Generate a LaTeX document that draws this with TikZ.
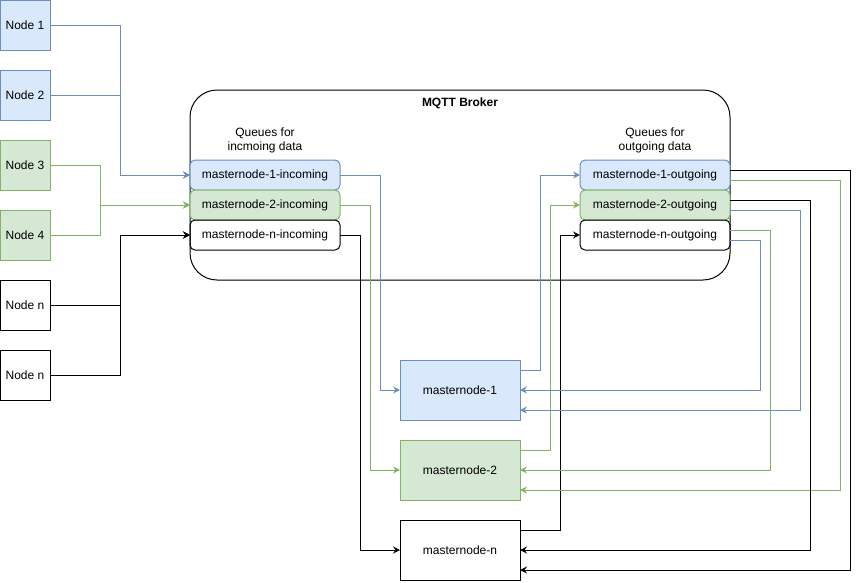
\documentclass[tikz,border=0pt]{standalone}
\usepackage{fontspec}
\setmainfont{Liberation Sans}
\usetikzlibrary{arrows.meta}
\definecolor{blueFill}{HTML}{DAE8FC}
\definecolor{blueLine}{HTML}{6C8EBF}
\definecolor{greenFill}{HTML}{D5E8D4}
\definecolor{greenLine}{HTML}{82B366}
\tikzset{
	box/.style={draw, inner sep=0pt, outer sep=0pt, font=\fontsize{12}{14}\selectfont},
	src/.style={box, minimum width=50pt, minimum height=50pt},
	queue/.style={box, rounded corners=5pt, minimum width=150pt, minimum height=30pt},
	master/.style={box, minimum width=120pt, minimum height=60pt},
	bluebox/.style={draw=blueLine, fill=blueFill},
	greenbox/.style={draw=greenLine, fill=greenFill},
	link/.style={-{Stealth[length=7pt, width=7pt, inset=2.5pt]}},
	lab/.style={align=center, font=\fontsize{12}{14}\selectfont},
}
\begin{document}
\begin{tikzpicture}[x=1pt, y=-1pt, line width=1pt]
	\useasboundingbox (0, 0) rectangle (859, 582);
	\def \qin{265}
	\def \qout{655}
	% broker
	\draw[fill=white, rounded corners=27pt] (190, 90) rectangle (730, 280);
	\node[lab, font=\fontsize{12}{14}\selectfont\bfseries] (title) at (460, 103) {MQTT Broker};
	\node[lab] (inlab) at (\qin, 140) {Queues for\\incmoing data};
	\node[lab] (outlab) at (\qout, 140) {Queues for\\outgoing data};
	% sources
	\node[src, bluebox] (node1) at (25, 25) {Node 1};
	\node[src, bluebox] (node2) at (25, 95) {Node 2};
	\node[src, greenbox] (node3) at (25, 165) {Node 3};
	\node[src, greenbox] (node4) at (25, 235) {Node 4};
	\node[src] (nodena) at (25, 305) {Node n};
	\node[src] (nodenb) at (25, 375) {Node n};
	% queues
	\node[queue, bluebox] (inq1) at (\qin, 175) {masternode-1-incoming};
	\node[queue, greenbox] (inq2) at (\qin, 205) {masternode-2-incoming};
	\node[queue] (inqn) at (\qin, 235) {masternode-n-incoming};
	\node[queue, bluebox] (outq1) at (\qout, 175) {masternode-1-outgoing};
	\node[queue, greenbox] (outq2) at (\qout, 205) {masternode-2-outgoing};
	\node[queue] (outqn) at (\qout, 235) {masternode-n-outgoing};
	% masternodes
	\node[master, bluebox] (mn1) at (460, 390) {masternode-1};
	\node[master, greenbox] (mn2) at (460, 470) {masternode-2};
	\node[master] (mnn) at (460, 550) {masternode-n};
	% sources -> incoming
	\draw[link, blueLine] (node1.east) -- ++(70, 0) |- (inq1.west);
	\draw[link, blueLine] (node2.east) -- ++(70, 0) |- (inq1.west);
	\draw[link, greenLine] (node3.east) -- ++(50, 0) |- (inq2.west);
	\draw[link, greenLine] (node4.east) -- ++(50, 0) |- (inq2.west);
	\draw[link] (nodena.east) -- ++(70, 0) |- (inqn.west);
	\draw[link] (nodenb.east) -- ++(70, 0) |- (inqn.west);
	% incoming -> masternodes
	\draw[link, blueLine] (inq1.east) -- ++(40, 0) |- (mn1.west);
	\draw[link, greenLine] (inq2.east) -- ++(30, 0) |- (mn2.west);
	\draw[link] (inqn.east) -- ++(20, 0) |- (mnn.west);
	% masternodes -> outgoing
	\draw[link, blueLine] ([yshift=20pt]mn1.east) -- ++(20, 0) |- (outq1.west);
	\draw[link, greenLine] ([yshift=20pt]mn2.east) -- ++(30, 0) |- (outq2.west);
	\draw[link] ([yshift=20pt]mnn.east) -- ++(40, 0) |- (outqn.west);
	% outgoing -> masternodes
	\draw[link] ([yshift=5pt]outq1.east) -- ++(120, 0) |- ([yshift=-20pt]mnn.east);
	\draw[link, greenLine] ([yshift=-5pt]outq1.east) -- ++(110, 0) |- ([yshift=-20pt]mn2.east);
	\draw[link] ([yshift=5pt]outq2.east) -- ++(80, 0) |- (mnn.east);
	\draw[link, blueLine] ([yshift=-5pt]outq2.east) -- ++(70, 0) |- ([yshift=-20pt]mn1.east);
	\draw[link, greenLine] ([yshift=5pt]outqn.east) -- ++(40, 0) |- (mn2.east);
	\draw[link, blueLine] ([yshift=-5pt]outqn.east) -- ++(30, 0) |- (mn1.east);
\end{tikzpicture}
\end{document}
